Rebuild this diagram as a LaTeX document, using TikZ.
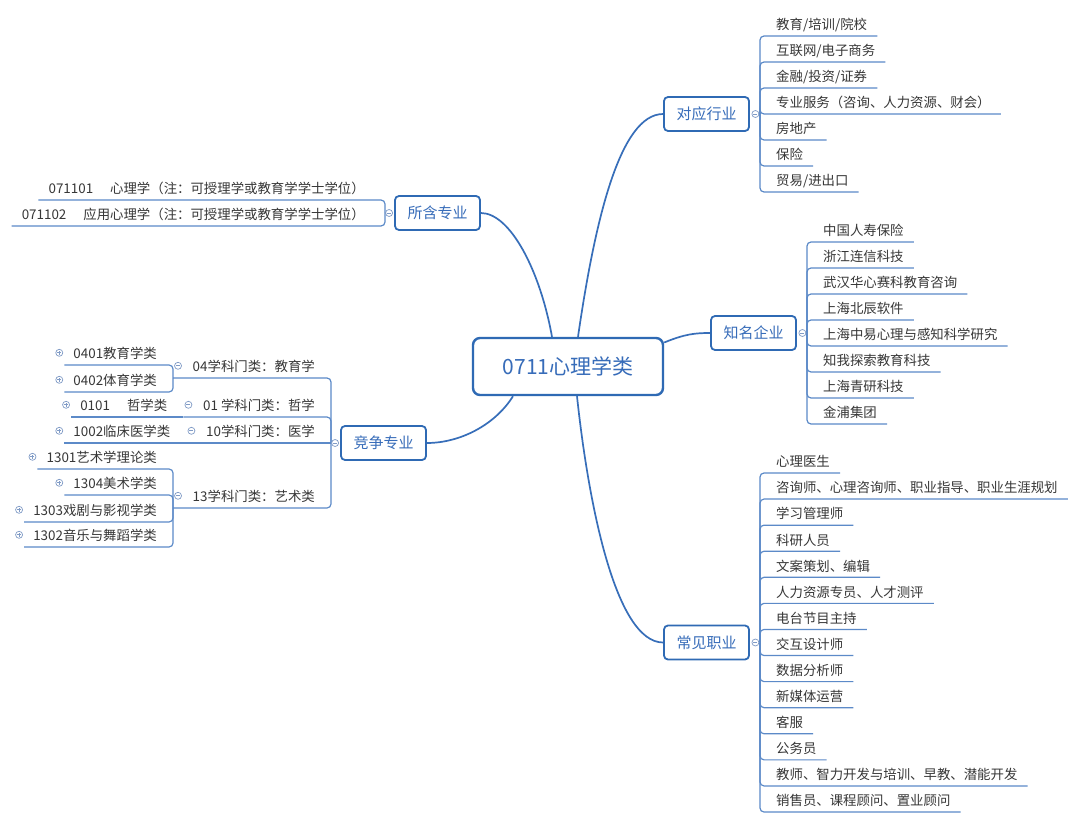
\documentclass[tikz,border=0pt]{standalone}
\usepackage{fontspec}
\setmainfont{Noto Sans CJK SC}
\usetikzlibrary{calc,backgrounds}
\definecolor{boxblue}{RGB}{47,106,180}
\definecolor{boxtext}{RGB}{55,108,185}
\definecolor{linkblue}{RGB}{55,110,185}
\definecolor{subline}{RGB}{92,138,200}
\definecolor{leaftext}{RGB}{55,55,55}
\definecolor{circgray}{RGB}{128,155,198}
\newcommand\leaffont{\fontsize{13.4pt}{16pt}\selectfont}
\newcommand\rtxt[1]{\mbox{}\hspace{16pt}#1\hspace{10pt}\mbox{}}
\newcommand\gtxt[1]{\mbox{}\hspace{9pt}#1\hspace{16pt}\mbox{}}
\newcommand\ntxt[1]{\mbox{}\hspace{19.5pt}#1\hspace{16pt}\mbox{}}
\tikzset{
  centerbox/.style={draw=boxblue, line width=2.4pt, rounded corners=7pt, fill=white,
    minimum width=190pt, minimum height=57pt, inner sep=0pt, text=boxtext,
    font=\fontsize{21pt}{24pt}\selectfont},
  branchbox/.style={draw=boxblue, line width=1.8pt, rounded corners=4pt, fill=white,
    minimum width=85pt, minimum height=34pt, inner sep=0pt, text=boxtext,
    font=\fontsize{15pt}{18pt}\selectfont},
  link/.style={draw=linkblue, line width=1.7pt},
  uline/.style={draw=subline, line width=1.2pt, rounded corners=4pt},
  rleaf/.style={anchor=south west, inner sep=0pt, text height=18pt, text depth=6pt,
    text=leaftext, font=\leaffont},
  lleaf/.style={anchor=south east, inner sep=0pt, text height=18pt, text depth=6pt,
    text=leaftext, font=\leaffont},
  circbase/.style={circle, draw=circgray, fill=white, line width=0.7pt,
    minimum size=7pt, inner sep=0pt},
  mc/.style={circbase, path picture={\draw[circgray, line width=0.7pt]
    ([xshift=-2pt]path picture bounding box.center) -- ([xshift=2pt]path picture bounding box.center);}},
  pc/.style={circbase, path picture={\draw[circgray, line width=0.7pt]
    ([xshift=-2pt]path picture bounding box.center) -- ([xshift=2pt]path picture bounding box.center)
    ([yshift=-2pt]path picture bounding box.center) -- ([yshift=2pt]path picture bounding box.center);}},
}
\begin{document}
\begin{tikzpicture}[x=1pt,y=-1pt]
\useasboundingbox (0,0) rectangle (1080,824);

% main nodes
\node[centerbox] (c) at (568,366.5) {0711心理学类};
\node[branchbox] (dy) at (706.5,114) {对应行业};
\node[branchbox] (sh) at (437.5,213) {所含专业};
\node[branchbox] (zm) at (753.5,333) {知名企业};
\node[branchbox] (jz) at (383.5,443) {竞争专业};
\node[branchbox] (cj) at (706.5,642.5) {常见职业};

% branch circles and junction points
\node[mc] (dyc) at ([xshift=5.5pt]dy.east) {};
\node[mc] (zmc) at ([xshift=5.5pt]zm.east) {};
\node[mc] (cjc) at ([xshift=5.5pt]cj.east) {};
\node[mc] (shc) at ([xshift=-5pt]sh.west) {};
\node[mc] (jzc) at ([xshift=-5pt]jz.west) {};
\coordinate (dyv) at (760,114);
\coordinate (zmv) at (807,333);
\coordinate (cjv) at (760,642.5);
\coordinate (shv) at (385,213);
\coordinate (jzv) at (331,443);

% right leaves
\foreach \t [count=\i] in {教育/培训/院校, 互联网/电子商务, 金融/投资/证券,
  专业服务（咨询、人力资源、财会）, 房地产, 保险, 贸易/进出口}
  \node[rleaf] (dy\i) at (760,{36+26*(\i-1)}) {\rtxt{\t}};
\foreach \t [count=\i] in {中国人寿保险, 浙江连信科技, 武汉华心赛科教育咨询, 上海北辰软件,
  上海中易心理与感知科学研究, 知我探索教育科技, 上海青研科技, 金浦集团}
  \node[rleaf] (zm\i) at (807,{242+26*(\i-1)}) {\rtxt{\t}};
\foreach \t [count=\i] in {心理医生, 咨询师、心理咨询师、职业指导、职业生涯规划, 学习管理师,
  科研人员, 文案策划、编辑, 人力资源专员、人才测评, 电台节目主持, 交互设计师,
  数据分析师, 新媒体运营, 客服, 公务员, 教师、智力开发与培训、早教、潜能开发,
  销售员、课程顾问、置业顾问}
  \node[rleaf] (cj\i) at (760,{473+26.077*(\i-1)}) {\rtxt{\t}};

% 所含专业 leaves
\node[lleaf] (sh1) at (385,200) {\mbox{}\hspace{10pt}071101\hspace{17pt}心理学（注：可授理学或教育学学士学位）\hspace{20pt}\mbox{}};
\node[lleaf] (sh2) at (385,226) {\mbox{}\hspace{10pt}071102\hspace{17pt}应用心理学（注：可授理学或教育学学士学位）\hspace{20pt}\mbox{}};

% 竞争专业 level 2
\node[lleaf] (n04) at (331,378) {\ntxt{04学科门类：教育学}};
\node[lleaf] (n01) at (331,417) {\ntxt{01 学科门类：哲学}};
\node[lleaf] (n10) at (331,443) {\ntxt{10学科门类：医学}};
\node[lleaf] (n13) at (331,508) {\ntxt{13学科门类：艺术类}};
\node[mc] (m04) at ([xshift=5pt]n04.west) {};
\node[mc] (m01) at ([xshift=5pt]n01.west) {};
\node[mc] (m10) at ([xshift=5pt]n10.west) {};
\node[mc] (m13) at ([xshift=5pt]n13.west) {};

% level 3
\node[lleaf] (g0401) at ($(n04.south west)+(0,-13)$) {\gtxt{0401教育学类}};
\node[lleaf] (g0402) at ($(n04.south west)+(0,14)$) {\gtxt{0402体育学类}};
\node[lleaf] (g0101) at (n01.south west) {\gtxt{0101\hspace{17pt}哲学类}};
\node[lleaf] (g1002) at (n10.south west) {\gtxt{1002临床医学类}};
\node[lleaf] (g1301) at ($(n13.south west)+(0,-39)$) {\gtxt{1301艺术学理论类}};
\node[lleaf] (g1304) at ($(n13.south west)+(0,-13)$) {\gtxt{1304美术学类}};
\node[lleaf] (g1303) at ($(n13.south west)+(0,14)$) {\gtxt{1303戏剧与影视学类}};
\node[lleaf] (g1302) at ($(n13.south west)+(0,39)$) {\gtxt{1302音乐与舞蹈学类}};
\foreach \g in {g0401,g0402,g0101,g1002,g1301,g1304,g1303,g1302}
  \node[pc] (p\g) at ([xshift=-5pt]\g.west) {};

\begin{scope}[on background layer]
  \fill[white] (0,0) rectangle (1080,824);
  % central links
  \draw[link] ([xshift=10pt]c.north) .. controls (595,220) and (620,114) .. (dy.west);
  \draw[link] ([xshift=-16pt]c.north) .. controls (540,270) and (510,213) .. (sh.east);
  \draw[link] ([yshift=24pt]c.east) .. controls (685,334) and (695,333) .. (zm.west);
  \draw[link] ([xshift=-55pt]c.south) .. controls (495,425) and (460,443) .. (jz.east);
  \draw[link] ([xshift=9pt]c.south) .. controls (588,500) and (615,642.5) .. (cj.west);
  % right branches
  \draw[uline] (dyc) -- (dyv);
  \draw[uline] (zmc) -- (zmv);
  \draw[uline] (cjc) -- (cjv);
  \foreach \i in {1,...,7}
    \draw[uline] (dyv) -- (dyv |- dy\i.south west) -- (dy\i.south east);
  \foreach \i in {1,...,8}
    \draw[uline] (zmv) -- (zmv |- zm\i.south west) -- (zm\i.south east);
  \foreach \i in {1,...,14}
    \draw[uline] (cjv) -- (cjv |- cj\i.south west) -- (cj\i.south east);
  % left branches
  \draw[uline] (shc) -- (shv);
  \foreach \i in {1,2}
    \draw[uline] (shv) -- (shv |- sh\i.south east) -- (sh\i.south west);
  \draw[uline] (jzc) -- (jzv);
  \foreach \n in {n04,n01,n13}
    \draw[uline] (jzv) -- (jzv |- \n.south east) -- (\n.south west);
  \draw[uline] (jzv) -- (n10.south west);
  \foreach \g in {g0401,g0402}
    \draw[uline] (n04.south west) -- (n04.south west |- \g.south east) -- (\g.south west);
  \foreach \g in {g1301,g1304,g1303,g1302}
    \draw[uline] (n13.south west) -- (n13.south west |- \g.south east) -- (\g.south west);
  \draw[uline] (n01.south west) -- (g0101.south west);
  \draw[uline] (n10.south west) -- (g1002.south west);
\end{scope}
\end{tikzpicture}
\end{document}
